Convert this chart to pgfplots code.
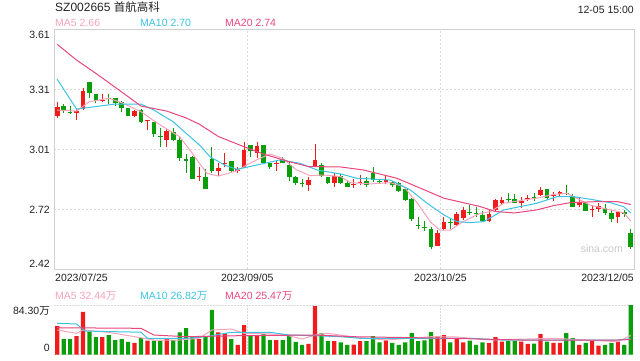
\documentclass[border=0pt]{standalone}
\usepackage{pgfplots}
\pgfplotsset{compat=1.18}
\usepackage{pgfplotstable}
\usepackage{fontspec}
\setmainfont{Liberation Sans}
\newfontfamily\cjk{Noto Sans CJK SC}
\definecolor{upred}{HTML}{F01C1C}
\definecolor{dngreen}{HTML}{0B9E0B}
\definecolor{mafive}{HTML}{F7A3BA}
\definecolor{maten}{HTML}{3CC3E2}
\definecolor{matwenty}{HTML}{E8467C}
\definecolor{framegray}{HTML}{CFCFCF}
\definecolor{gridgray}{HTML}{D9D9D9}
\definecolor{txt}{HTML}{222222}
\newcommand{\lab}{\fontsize{10.5}{12}\selectfont}

\pgfplotstableread{
i O H L C V
0 3.180 3.250 3.170 3.222 48.5
3 3.192 3.220 3.159 3.203 31.5
4 3.212 3.316 3.208 3.303 72.4
7 3.252 3.286 3.250 3.257 29.8
12 3.180 3.208 3.172 3.203 19.6
14 3.154 3.159 3.109 3.157 23.5
17 3.060 3.116 3.026 3.104 28.1
22 2.876 2.927 2.858 2.880 26.4
25 2.907 2.944 2.881 2.922 37.8
26 2.942 2.997 2.927 2.946 36.6
28 2.905 2.925 2.898 2.915 16.2
29 2.922 3.048 2.919 3.010 50.2
31 2.997 3.048 2.969 3.030 33.2
34 2.939 2.956 2.907 2.942 24.7
39 2.837 2.878 2.808 2.861 17.9
40 2.927 3.040 2.924 2.960 82.6
43 2.848 2.898 2.828 2.881 23.0
46 2.835 2.865 2.820 2.838 17.0
47 2.847 2.886 2.837 2.850 23.0
51 2.850 2.881 2.842 2.861 24.1
59 2.536 2.613 2.534 2.600 30.7
60 2.617 2.676 2.613 2.655 33.2
62 2.638 2.704 2.635 2.693 26.4
63 2.671 2.726 2.663 2.713 20.7
67 2.658 2.713 2.655 2.691 19.6
68 2.713 2.766 2.709 2.762 29.8
69 2.746 2.779 2.737 2.762 22.0
72 2.746 2.779 2.721 2.759 22.0
73 2.769 2.787 2.759 2.772 17.9
75 2.787 2.828 2.782 2.812 34.9
77 2.782 2.803 2.759 2.786 19.6
78 2.790 2.807 2.779 2.800 19.6
81 2.737 2.771 2.729 2.754 16.2
83 2.711 2.733 2.679 2.714 23.0
84 2.718 2.749 2.704 2.733 15.0
87 2.679 2.704 2.647 2.704 22.0
}\up

\pgfplotstableread{
i O H L C V
1 3.228 3.238 3.192 3.208 26.4
2 3.195 3.228 3.189 3.192 26.4
5 3.346 3.349 3.269 3.291 38.9
6 3.288 3.288 3.242 3.252 29.8
8 3.268 3.288 3.238 3.261 33.2
9 3.266 3.268 3.228 3.242 24.7
10 3.250 3.253 3.200 3.220 26.4
11 3.217 3.220 3.177 3.180 21.3
13 3.208 3.212 3.145 3.150 28.1
15 3.147 3.150 3.076 3.089 23.5
16 3.080 3.118 3.026 3.076 23.5
18 3.101 3.118 3.056 3.060 24.7
19 3.060 3.076 2.957 2.972 37.8
20 2.964 2.989 2.898 2.957 45.1
21 2.977 2.979 2.864 2.866 31.5
23 2.878 2.914 2.815 2.817 31.5
24 2.966 3.026 2.898 2.906 75.8
27 2.956 2.956 2.903 2.907 26.4
30 3.035 3.035 2.977 3.007 33.2
32 3.035 3.035 2.944 2.947 34.9
33 2.947 2.947 2.917 2.927 24.7
35 2.966 2.977 2.944 2.947 24.7
36 2.936 2.949 2.858 2.878 33.2
37 2.875 2.883 2.838 2.848 21.3
38 2.847 2.866 2.828 2.843 16.2
41 2.936 2.947 2.878 2.881 36.1
42 2.878 2.878 2.842 2.848 23.0
44 2.883 2.891 2.842 2.848 20.7
45 2.845 2.858 2.828 2.828 16.2
48 2.856 2.878 2.828 2.837 23.0
49 2.895 2.927 2.853 2.861 31.5
50 2.855 2.865 2.842 2.851 20.7
52 2.853 2.858 2.828 2.837 19.6
53 2.845 2.853 2.803 2.808 16.2
54 2.817 2.820 2.757 2.762 20.7
55 2.767 2.771 2.658 2.667 36.6
56 2.637 2.676 2.618 2.633 23.0
57 2.627 2.658 2.609 2.623 24.1
58 2.618 2.627 2.519 2.531 38.3
61 2.653 2.671 2.618 2.650 20.7
64 2.701 2.737 2.688 2.698 23.5
65 2.698 2.726 2.679 2.694 16.2
66 2.688 2.708 2.655 2.658 20.7
70 2.764 2.795 2.746 2.761 23.0
71 2.767 2.790 2.746 2.749 23.0
74 2.776 2.795 2.759 2.772 18.4
76 2.815 2.815 2.767 2.771 22.0
79 2.793 2.837 2.787 2.790 36.6
80 2.784 2.790 2.729 2.729 28.1
82 2.749 2.749 2.708 2.708 19.6
85 2.724 2.741 2.688 2.699 16.2
86 2.699 2.713 2.655 2.668 19.6
88 2.704 2.713 2.679 2.691 16.2
89 2.597 2.617 2.518 2.531 84.3
}\dn

\pgfplotstableread{
x m
0 3.208
3 3.203
5 3.250
8 3.266
10 3.245
13 3.200
15 3.155
17 3.114
19 3.076
20 3.034
21 2.992
22 2.947
23.2 2.895
25 2.881
27.9 2.907
29.4 2.936
31 2.962
33 2.990
35 2.969
37 2.914
39.2 2.883
41.3 2.886
44 2.878
45.5 2.848
48.6 2.842
51.7 2.848
53.8 2.828
55.9 2.746
58 2.650
59.4 2.613
61 2.613
63 2.655
65.6 2.696
67.2 2.704
69.3 2.746
72.4 2.762
74.4 2.771
77 2.790
79.1 2.795
80.6 2.771
82.7 2.737
85.8 2.713
87.9 2.699
89 2.658
}\mafivetab

\pgfplotstableread{
x m
0 3.361
3 3.213
9 3.238
13 3.238
15 3.208
18 3.150
20 3.093
22.2 3.031
23.7 2.977
26 2.935
27.9 2.914
31 2.936
34.6 2.961
37.7 2.944
40.3 2.911
44 2.891
46.5 2.870
51.7 2.861
54.8 2.812
57.4 2.746
60 2.688
62 2.655
64.1 2.650
66.2 2.655
69.3 2.713
74.4 2.746
77.6 2.779
80.1 2.779
82.7 2.766
85.8 2.749
87.9 2.729
89 2.698
}\matentab

\pgfplotstableread{
x m
0 3.534
3 3.456
6 3.390
9 3.321
13 3.228
17 3.203
20 3.169
22 3.139
25 3.077
29 3.026
32 2.990
36 2.952
39 2.928
44 2.926
47.5 2.911
52.7 2.870
57 2.812
60 2.771
63 2.749
65.6 2.730
68 2.705
71 2.698
74.4 2.713
77 2.734
79.6 2.749
83.7 2.754
86.9 2.754
89 2.740
}\matwentytab

\pgfplotstableread{
x m
0 41.7
3 36.1
4 41.7
8 37.8
12 30.3
15 24.7
19 24.7
22 27.6
24 41.7
27 43.4
29 36.1
35 34.4
38 26.4
40 33.2
42 36.1
46 29.8
51 24.7
58 30.3
62 29.8
67 24.7
77 27.6
87 21.8
89 32.44
}\vfivetab

\pgfplotstableread{
x m
0 53.1
3 52.0
4.3 40.0
8 39.0
13 38.0
14 27.6
20 27.6
23 30.3
27 37.8
33 37.8
36 33.2
40 32.0
44 30.3
47 27.6
64 27.6
69 24.7
87 24.7
89 26.82
}\vtentab

\pgfplotstableread{
x m
0 45.6
13 44.6
15 33.2
20 30.3
28 32.0
40 33.2
46 30.3
61 27.6
72 24.7
87 24.7
89 25.47
}\vtwentytab

\begin{document}
\begin{tikzpicture}[x=1pt,y=1pt]
\path[use as bounding box] (0,0) rectangle (640,360);

% ---------- price panel ----------
\begin{axis}[
  at={(54pt,91pt)}, anchor=south west,
  scale only axis, width=580pt, height=240pt,
  xmin=-0.5, xmax=89.5, ymin=2.42, ymax=3.61,
  axis line style={draw=framegray, line width=1pt},
  xtick={29.5,59.5}, xticklabels={},
  ytick={2.7175,3.015,3.3125}, yticklabels={},
  major tick length=0pt,
  xmajorgrids, ymajorgrids,
  grid style={draw=gridgray, line width=1pt, dash pattern=on 2pt off 2pt},
]
% wicks
\addplot[draw=none, mark=none, forget plot,
  error bars/.cd, y dir=plus, y explicit, error mark=none,
  error bar style={draw=upred, line width=1pt}]
  table[x=i, y=L, y error expr={\thisrow{H}-\thisrow{L}}] {\up};
\addplot[draw=none, mark=none, forget plot,
  error bars/.cd, y dir=plus, y explicit, error mark=none,
  error bar style={draw=dngreen, line width=1pt}]
  table[x=i, y=L, y error expr={\thisrow{H}-\thisrow{L}}] {\dn};
% bodies
\addplot[draw=none, mark=none, forget plot,
  error bars/.cd, y dir=plus, y explicit, error mark=none,
  error bar style={draw=upred, line width=4.6pt}]
  table[x=i, y expr={min(\thisrow{O},\thisrow{C})},
        y error expr={max(abs(\thisrow{C}-\thisrow{O}),0.005)}] {\up};
\addplot[draw=none, mark=none, forget plot,
  error bars/.cd, y dir=plus, y explicit, error mark=none,
  error bar style={draw=dngreen, line width=4.6pt}]
  table[x=i, y expr={min(\thisrow{O},\thisrow{C})},
        y error expr={max(abs(\thisrow{C}-\thisrow{O}),0.005)}] {\dn};
% moving averages
\addplot[mafive, line width=1pt, mark=none, line join=round] table[x=x,y=m] {\mafivetab};
\addplot[maten, line width=1pt, mark=none, line join=round] table[x=x,y=m] {\matentab};
\addplot[matwenty, line width=1pt, mark=none, line join=round] table[x=x,y=m] {\matwentytab};
\end{axis}

% ---------- volume panel ----------
\begin{axis}[
  at={(54pt,5.5pt)}, anchor=south west,
  scale only axis, width=580pt, height=49.5pt,
  xmin=-0.5, xmax=89.5, ymin=0, ymax=84.3,
  axis line style={draw=none},
  xtick={29.5,59.5}, xticklabels={},
  ytick={0,84.3}, yticklabels={},
  major tick length=0pt,
  xmajorgrids, ymajorgrids,
  grid style={draw=gridgray, line width=1pt, dash pattern=on 1.5pt off 1.5pt},
]
\addplot[ybar, bar width=4.2pt, bar shift=0pt, fill=upred, draw=none] table[x=i,y=V] {\up};
\addplot[ybar, bar width=4.2pt, bar shift=0pt, fill=dngreen, draw=none] table[x=i,y=V] {\dn};
\addplot[mafive, line width=1pt, mark=none, line join=round] table[x=x,y=m] {\vfivetab};
\addplot[maten, line width=1pt, mark=none, line join=round] table[x=x,y=m] {\vtentab};
\addplot[matwenty, line width=1pt, mark=none, line join=round] table[x=x,y=m] {\vtwentytab};
\end{axis}

% ---------- texts ----------
\node[anchor=base west, inner sep=0, text=txt] at (55,349) {\fontsize{12}{14}\selectfont SZ002665 {\cjk\fontsize{11.5}{14}\selectfont 首航高科}};
\node[anchor=base east, inner sep=0, text=txt] at (634,347) {\lab 12-05 15:00};
\node[anchor=base west, inner sep=0, text=mafive] at (55,333.3) {\lab MA5 2.66};
\node[anchor=base west, inner sep=0, text=maten] at (140,333.3) {\lab MA10 2.70};
\node[anchor=base west, inner sep=0, text=matwenty] at (225,333.3) {\lab MA20 2.74};

\node[anchor=north east, inner sep=0, text=txt] at (50,329) {\lab 3.61};
\node[anchor=east, inner sep=0, text=txt] at (50,270.5) {\lab 3.31};
\node[anchor=east, inner sep=0, text=txt] at (50,210) {\lab 3.01};
\node[anchor=east, inner sep=0, text=txt] at (50,150.5) {\lab 2.72};
\node[anchor=base east, inner sep=0, text=txt] at (50,93) {\lab 2.42};

\node[anchor=base west, inner sep=0, text=txt] at (55,78.5) {\lab 2023/07/25};
\node[anchor=base, inner sep=0, text=txt] at (247.3,78.5) {\lab 2023/09/05};
\node[anchor=base, inner sep=0, text=txt] at (440.5,78.5) {\lab 2023/10/25};
\node[anchor=base east, inner sep=0, text=txt] at (634,78.5) {\lab 2023/12/05};

\node[anchor=base east, inner sep=0, text=black!22] at (623,107.5) {\lab sina.com};

\node[anchor=base west, inner sep=0, text=mafive] at (55,60.5) {\lab MA5 32.44{\cjk 万}};
\node[anchor=base west, inner sep=0, text=maten] at (140,60.5) {\lab MA10 26.82{\cjk 万}};
\node[anchor=base west, inner sep=0, text=matwenty] at (225,60.5) {\lab MA20 25.47{\cjk 万}};

\node[anchor=base east, inner sep=0, text=txt] at (50,45.3) {\lab 84.30{\cjk 万}};
\node[anchor=base east, inner sep=0, text=txt] at (50,8.3) {\lab 0};
\end{tikzpicture}
\end{document}
